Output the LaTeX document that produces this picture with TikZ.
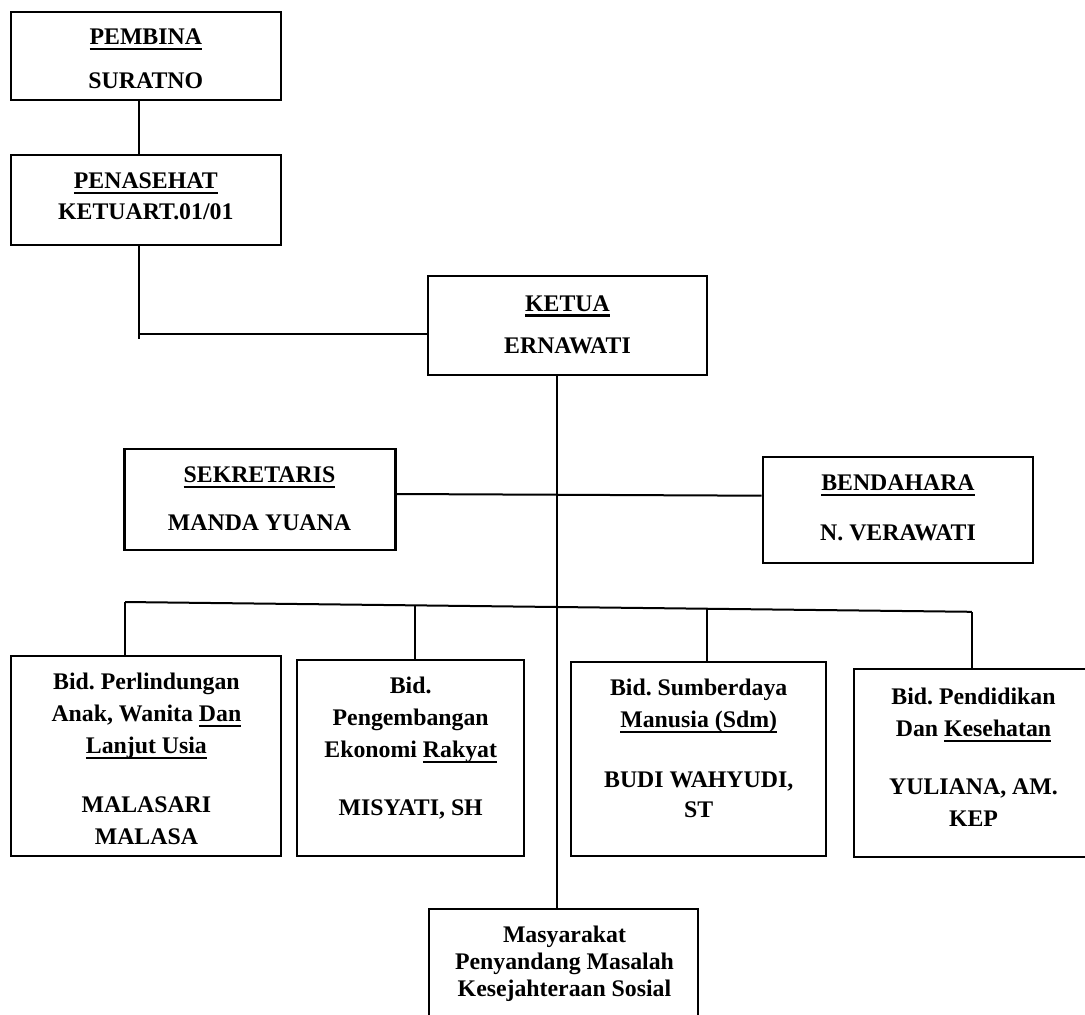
\documentclass[tikz,border=0pt]{standalone}
\usepackage{fontspec}
\setmainfont{Liberation Serif}
\usetikzlibrary{calc}
\frenchspacing
\newsavebox{\myulbox}
\newcommand{\myul}[1]{\sbox{\myulbox}{#1}\rlap{\rule[-5.5pt]{\wd\myulbox}{2.2pt}}\usebox{\myulbox}}
\begin{document}
\begin{tikzpicture}[x=1pt,y=-1pt,
  box/.style={draw, line width=2.2pt, inner sep=0pt, rectangle},
  txt/.style={align=center, inner sep=0pt, font=\bfseries\fontsize{23.8}{32}\selectfont},
  txtb/.style={align=center, inner sep=0pt, font=\bfseries\fontsize{23.8}{27}\selectfont},
  conn/.style={line width=2pt}]
\useasboundingbox (0,0) rectangle (1085,1015);
\clip (0,0) rectangle (1085,1015);

% boxes
\node[box, minimum width=270pt, minimum height=88pt] (pembina) at (146,56) {};
\node[box, minimum width=270pt, minimum height=90pt] (penasehat) at (146,200) {};
\node[box, minimum width=279pt, minimum height=99pt] (ketua) at (567.8,325.3) {};
\node[box, minimum width=271pt, minimum height=101pt] (sekretaris) at (260,499.5) {};
\node[box, minimum width=270pt, minimum height=106.6pt] (bendahara) at (897.8,510) {};
\node[box, minimum width=270.7pt, minimum height=200pt] (b1) at (146,756) {};
\node[box, minimum width=227.2pt, minimum height=196pt] (b2) at (410.7,758) {};
\node[box, minimum width=255pt, minimum height=194pt] (b3) at (698.2,759) {};
\node[box, minimum width=238.7pt, minimum height=187.4pt] (b4) at (973.7,763) {};
\node[box, minimum width=269pt, minimum height=130.7pt] (masy) at (563.8,974.7) {};

% texts
\node[txt] (pembinaT) at (145.8,58.9) {\myul{PEMBINA}\\[11.3pt]SURATNO};
\node[txt] (penasehatT) at (145.8,196.4) {\myul{PENASEHAT}\\[-0.8pt]KETUART.01/01};
\node[txt] (ketuaT) at (567.5,324.4) {\myul{KETUA}\\[10pt]ERNAWATI};
\node[txt] (sekretarisT) at (259.5,499) {\myul{SEKRETARIS}\\[16pt]MANDA YUANA};
\node[txt] (bendaharaT) at (898,508) {\myul{BENDAHARA}\\[18pt]N. VERAWATI};
\node[txt] (b1T) at (146.4,758.8) {Bid. Perlindungan\\Anak, Wanita \myul{Dan}\\\myul{Lanjut Usia}\\[26.3pt]MALASARI\\MALASA};
\node[txt] (b2T) at (410.7,747.8) {Bid.\\Pengembangan\\Ekonomi \myul{Rakyat}\\[26pt]MISYATI, SH};
\node[txt] (b3T) at (698.7,748.3) {Bid. Sumberdaya\\\myul{Manusia (Sdm)}\\[27.7pt]BUDI WAHYUDI,\\[-2.5pt]ST};
\node[txt] (b4T) at (973.5,757.3) {Bid. Pendidikan\\Dan \myul{Kesehatan}\\[26.7pt]YULIANA, AM.\\KEP};
\node[txtb] (masyT) at (564.5,963.7) {Masyarakat\\Penyandang Masalah\\Kesejahteraan Sosial};

% connectors
\draw[conn] ([xshift=-7pt]pembina.south) -- ([xshift=-7pt]penasehat.north);
\coordinate (pkEnd) at (139,339.3);
\coordinate (pkJoin) at (139,334.3);
\draw[conn] ([xshift=-7pt]penasehat.south) -- (pkEnd);
\draw[conn] (pkJoin) -- (pkJoin -| ketua.west);
\coordinate (trunkX) at (556.7,0);
\draw[conn] (ketua.south -| trunkX) -- (masy.north -| trunkX);
\draw[conn] ([yshift=5.5pt]sekretaris.east) -- ([yshift=14.3pt]bendahara.west);
\coordinate (busL) at (125,602);
\coordinate (busR) at (971.8,611.8);
\draw[conn] (busL) -- (busR);
\draw[conn] (busL) -- (busL |- b1.north);
\coordinate (d2) at ($(busL)!0.3424!(busR)$);
\draw[conn] (d2) -- (d2 |- b2.north);
\coordinate (d3) at ($(busL)!0.6869!(busR)$);
\draw[conn] (d3) -- (d3 |- b3.north);
\draw[conn] (busR) -- (busR |- b4.north);
\end{tikzpicture}
\end{document}
